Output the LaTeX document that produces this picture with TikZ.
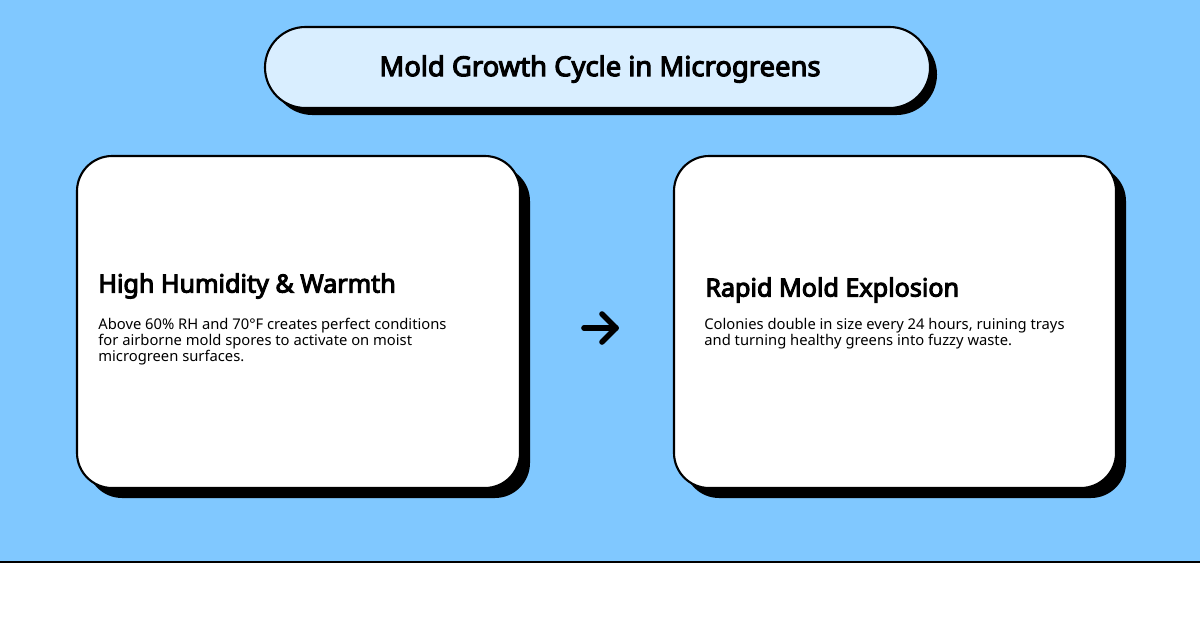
\documentclass[tikz,border=0pt]{standalone}
\usepackage{fontspec}
\setmainfont{Noto Sans}
\newfontfamily\headfont{Noto Sans}[FakeBold=4]
\usetikzlibrary{positioning}
\definecolor{skyblue}{HTML}{80C8FF}
\definecolor{paleblue}{HTML}{D9EEFF}
\tikzset{
  card/.style={draw=black, line width=1.2pt, fill=white, rounded corners=20pt},
  pill/.style={draw=black, line width=1.2pt, fill=paleblue, rounded corners=23pt},
  shade/.style={fill=black, rounded corners=20pt},
  cardtitle/.style={anchor=west, inner sep=0pt, font=\headfont\fontsize{14.3}{16}\selectfont},
  cardtext/.style={anchor=north west, inner sep=0pt, align=left, font=\fontsize{8.4}{9.1}\selectfont},
  flowarrow/.style={line width=3.2pt, line cap=round, line join=round}
}
\begin{document}
\begin{tikzpicture}[x=0.02cm, y=-0.02cm]
  \useasboundingbox (0,0) rectangle (1200,630);
  % background
  \fill[skyblue] (0,0) rectangle (1200,562);
  \draw[line width=1pt] (0,562) -- (1200,562);

  % title
  \fill[shade, rounded corners=23pt] (272,34) rectangle (937,115);
  \draw[pill] (265,27) rectangle (930,108);
  \node[font=\headfont\fontsize{15.6}{17}\selectfont] (title) at (600,69) {Mold Growth Cycle in Microgreens};

  % left card
  \fill[shade] (87,166) rectangle (530,498);
  \draw[card] (77,156) rectangle (520,488);
  \node[cardtitle] (humid) at (98,286) {High Humidity \& Warmth};
  \node[cardtext] (humidtext) at (98,318) {Above 60\% RH and 70°F creates perfect conditions\\for airborne mold spores to activate on moist\\microgreen surfaces.};

  % right card
  \fill[shade] (684,166) rectangle (1126,498);
  \draw[card] (674,156) rectangle (1116,488);
  \node[cardtitle] (mold) at (705,290) {Rapid Mold Explosion};
  \node[cardtext] (moldtext) at (704,318) {Colonies double in size every 24 hours, ruining trays\\and turning healthy greens into fuzzy waste.};

  % arrow
  \coordinate (from) at (584,328);
  \coordinate (to) at (616,328);
  \draw[flowarrow] (from) -- (to);
  \draw[flowarrow] (602,314) -- (to) -- (602,342);
\end{tikzpicture}
\end{document}
